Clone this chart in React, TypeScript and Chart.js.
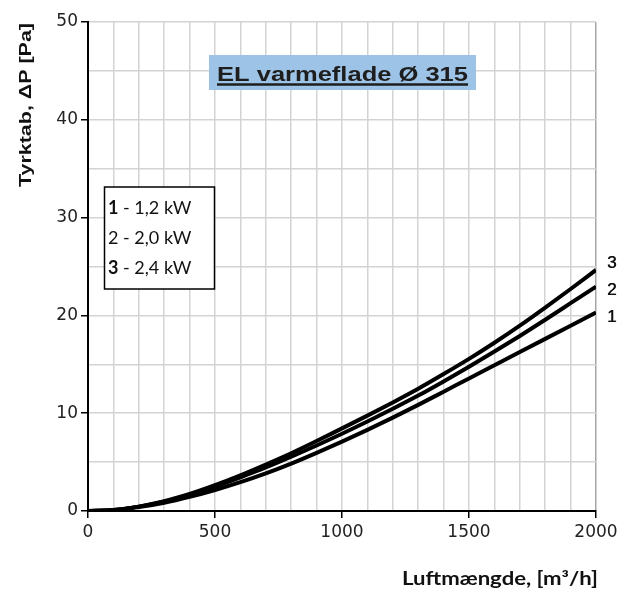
import React, { useEffect, useRef } from "react";
import { Chart, registerables } from "chart.js";

Chart.register(...registerables);

// ---- data ----
const airflow = [0, 100, 200, 300, 400, 500, 600, 700, 800, 900, 1000, 1100, 1200, 1300, 1400, 1500, 1600, 1700, 1800, 1900, 2000];
const dp1 = [0, 0.1, 0.4, 0.85, 1.45, 2.15, 2.95, 3.85, 4.85, 5.95, 7.1, 8.3, 9.55, 10.85, 12.2, 13.55, 14.9, 16.25, 17.6, 18.95, 20.3];
const dp2 = [0, 0.1, 0.45, 0.95, 1.65, 2.5, 3.45, 4.45, 5.55, 6.7, 7.9, 9.15, 10.45, 11.8, 13.25, 14.75, 16.3, 17.9, 19.55, 21.25, 22.95];
const dp3 = [0, 0.1, 0.45, 1.0, 1.75, 2.65, 3.65, 4.75, 5.9, 7.15, 8.45, 9.75, 11.1, 12.5, 14.0, 15.55, 17.2, 18.95, 20.8, 22.7, 24.65];
const seriesNames = ["1", "2", "3"];
const legendNumbers = ["1", "2", "3"];
const legendTexts = [" - 1,2 kW", " - 2,0 kW", " - 2,4 kW"];
const legendBold = [true, false, true];
const chartTitle = "EL varmeflade Ø 315";
const xTitle = "Luftmængde, [m³/h]";
const yTitle = "Tyrktab, ΔP [Pa]";
const xMin = 0, xMax = 2000, xStep = 100, xLabelStep = 500;
const yMin = 0, yMax = 50, yStep = 5, yLabelStep = 10;

const allSeries = [dp1, dp2, dp3];

function fitText(ctx: CanvasRenderingContext2D, text: string, cx: number, cy: number, width: number, align: "center" | "right") {
  const w = ctx.measureText(text).width;
  const k = width / w;
  ctx.save();
  ctx.translate(align === "center" ? cx : cx - width, cy);
  ctx.scale(k, 1);
  ctx.textAlign = align === "center" ? "center" : "left";
  ctx.fillText(text, 0, 0);
  ctx.restore();
}

const overlayPlugin = {
  id: "overlay",
  afterDraw(chart: any) {
    const ctx = chart.ctx;
    const xs = chart.scales.x;
    const ys = chart.scales.y;
    ctx.save();

    // title box
    const tcx = 342.5, tcy = 73, tw = 251;
    ctx.fillStyle = "#9dc3e6";
    ctx.fillRect(209, 55, 267, 35);
    ctx.fillStyle = "#1e1e1e";
    ctx.textBaseline = "alphabetic";
    ctx.font = "bold 21px 'Liberation Sans', Arial, sans-serif";
    fitText(ctx, chartTitle, tcx, tcy + 8, tw, "center");
    ctx.strokeStyle = "#1e1e1e";
    ctx.lineWidth = 2.5;
    ctx.beginPath();
    ctx.moveTo(tcx - tw / 2, tcy + 11.5);
    ctx.lineTo(tcx + tw / 2, tcy + 11.5);
    ctx.stroke();

    // legend box
    const lx = 104.5, ly = 187, lw = 110, lh = 102;
    ctx.fillStyle = "#ffffff";
    ctx.fillRect(lx, ly, lw, lh);
    ctx.strokeStyle = "#000000";
    ctx.lineWidth = 1.5;
    ctx.strokeRect(lx, ly, lw, lh);
    ctx.textAlign = "left";
    ctx.textBaseline = "middle";
    ctx.fillStyle = "#111111";
    for (let i = 0; i < legendNumbers.length; i++) {
      const yy = 208 + i * 30;
      ctx.font = (legendBold[i] ? "bold " : "") + "18px Lato, 'Noto Sans', sans-serif";
      ctx.fillText(legendNumbers[i], 108, yy);
      const nw = ctx.measureText(legendNumbers[i]).width;
      ctx.font = "18px Lato, 'Noto Sans', sans-serif";
      ctx.fillText(legendTexts[i], 108 + nw, yy);
    }

    // curve end labels
    const offsets = [4.5, 4, -7];
    ctx.font = "17px 'Liberation Sans', Arial, sans-serif";
    ctx.fillStyle = "#111111";
    ctx.textAlign = "left";
    ctx.textBaseline = "middle";
    for (let i = 0; i < allSeries.length; i++) {
      const s = allSeries[i];
      const px = xs.getPixelForValue(airflow[airflow.length - 1]) + 11;
      const py = ys.getPixelForValue(s[s.length - 1]) + offsets[i];
      ctx.fillText(seriesNames[i], px, py);
      ctx.fillText(seriesNames[i], px + 0.5, py);
    }

    // axis titles
    ctx.fillStyle = "#111111";
    ctx.font = "bold 18px Lato, 'Noto Sans', sans-serif";
    ctx.textBaseline = "middle";
    fitText(ctx, xTitle, 598, 579, 196, "right");

    ctx.save();
    ctx.translate(27, 105);
    ctx.rotate(-Math.PI / 2);
    ctx.font = "bold 16px 'Liberation Sans', Arial, sans-serif";
    fitText(ctx, yTitle, 0, 0, 164, "center");
    ctx.restore();
    ctx.restore();
  },
};

export default function App() {
  const ref = useRef<HTMLCanvasElement>(null);
  useEffect(() => {
    if (!ref.current) return;
    const mk = (arr: number[]) => airflow.map((x, i) => ({ x, y: arr[i] }));
    const chart = new Chart(ref.current, {
      type: "line",
      data: {
        datasets: allSeries.map((s, i) => ({
          label: seriesNames[i],
          data: mk(s),
          borderColor: "#000000",
          borderWidth: 4,
          pointRadius: 0,
          fill: false,
          cubicInterpolationMode: "monotone" as const,
        })),
      },
      options: {
        responsive: false,
        animation: false,
        layout: { padding: { left: 0, top: 22, right: 34, bottom: 0 } },
        plugins: { legend: { display: false }, tooltip: { enabled: false }, title: { display: false } },
        scales: {
          x: {
            type: "linear",
            min: xMin,
            max: xMax,
            afterFit: (s: any) => { s.height = 81; },
            afterBuildTicks: (s: any) => {
              const t = [];
              for (let v = xMin; v <= xMax; v += xStep) t.push({ value: v });
              s.ticks = t;
            },
            ticks: {
              autoSkip: false,
              maxRotation: 0,
              padding: 4,
              color: "#222222",
              font: { family: "'DejaVu Sans', sans-serif", size: 17 },
              callback: (v: any) => (Number(v) % xLabelStep === 0 ? String(v) : ""),
            },
            grid: {
              color: (c: any) => (c.tick && c.tick.value === xMax ? "#a6a6a6" : "#d3d3d3"),
              lineWidth: 1.5,
              tickLength: 7,
              tickWidth: 1.5,
              tickColor: (c: any) => (c.tick && c.tick.value % xLabelStep === 0 ? "#000000" : "rgba(0,0,0,0)"),
            },
            border: { color: "#000000", width: 2 },
          },
          y: {
            type: "linear",
            min: yMin,
            max: yMax,
            afterFit: (s: any) => { s.width = 88; },
            afterBuildTicks: (s: any) => {
              const t = [];
              for (let v = yMin; v <= yMax; v += yStep) t.push({ value: v });
              s.ticks = t;
            },
            ticks: {
              autoSkip: false,
              padding: 3,
              color: "#222222",
              font: { family: "'DejaVu Sans', sans-serif", size: 17 },
              callback: (v: any) => (Number(v) % yLabelStep === 0 ? String(v) : ""),
            },
            grid: {
              color: "#d3d3d3",
              lineWidth: 1.5,
              tickLength: 7,
              tickWidth: 1.5,
              tickColor: (c: any) => (c.tick && c.tick.value % yLabelStep === 0 ? "#000000" : "rgba(0,0,0,0)"),
            },
            border: { color: "#000000", width: 2 },
          },
        },
      },
      plugins: [overlayPlugin],
    } as any);
    return () => chart.destroy();
  }, []);
  return (
    <div style={{ position: "absolute", left: 0, top: 0, width: 630, height: 592, background: "#ffffff" }}>
      <canvas ref={ref} width={630} height={592} style={{ display: "block" }} />
    </div>
  );
}
